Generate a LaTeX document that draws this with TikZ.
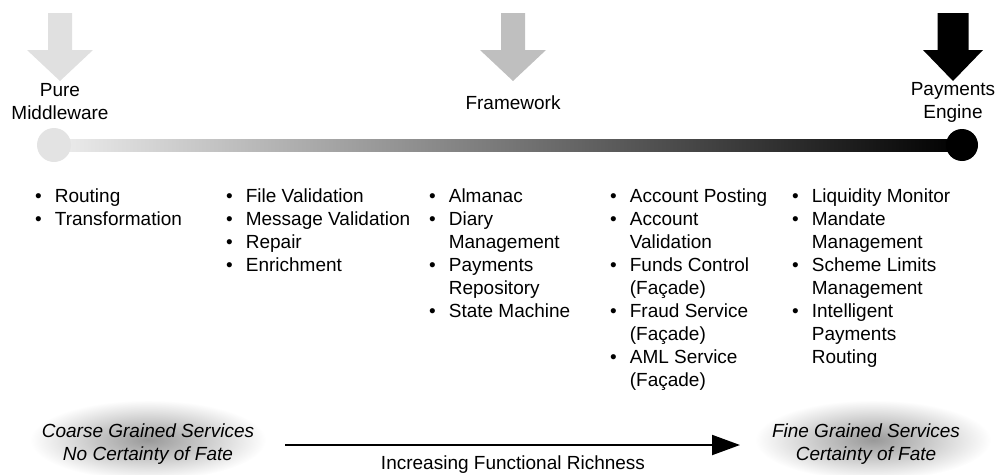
\documentclass[tikz,border=0pt]{standalone}
\usepackage{fontspec}
\setmainfont{Liberation Sans}
\usetikzlibrary{positioning, arrows.meta}

\begin{document}
\begin{tikzpicture}[x=1pt, y=-1pt, >=Stealth,
    every node/.style={font=\fontsize{19}{23}\selectfont, inner sep=0pt},
    stage/.style={align=center},
    svccol/.style={anchor=north west, align=left},
    fate/.style={align=center, font=\fontsize{19}{23}\selectfont\itshape},
    richarrow/.style={-{Triangle[length=28pt, width=20pt]}, line width=2pt}]
    \useasboundingbox (0,0) rectangle (1004,474);
    \clip (0,0) rectangle (1004,474);

    % Stage arrows
    \foreach \x/\s/\h/\c in {60/12/33/black!12, 513/12/33/black!25, 953/15.5/30/black}
      \fill[\c] (\x-\s,13) -- (\x+\s,13) -- (\x+\s,50) -- (\x+\h,50)
        -- (\x,81) -- (\x-\h,50) -- (\x-\s,50) -- cycle;

    % Stage labels
    \node[stage] (middleware) at (60,102) {Pure\\Middleware};
    \node[stage] (framework) at (513,103) {Framework};
    \node[stage] (engine) at (953,102) {Payments\\Engine};

    % Gradient bar
    \shade[left color=black!7, right color=black] (54,139) rectangle (962,151);
    \fill[black!11] (54,145) circle (17);
    \fill[black] (962,145) circle (16);

    % Services
    \node[svccol] (routing) at (35,186) {\begin{tabular}{@{}l@{\hspace{13pt}}l@{}}
      \textbullet & Routing\\
      \textbullet & Transformation
    \end{tabular}};
    \node[svccol] (validation) at (226,186) {\begin{tabular}{@{}l@{\hspace{13pt}}l@{}}
      \textbullet & File Validation\\
      \textbullet & Message Validation\\
      \textbullet & Repair\\
      \textbullet & Enrichment
    \end{tabular}};
    \node[svccol] (almanac) at (429,186) {\begin{tabular}{@{}l@{\hspace{13pt}}l@{}}
      \textbullet & Almanac\\
      \textbullet & Diary\\
                  & Management\\
      \textbullet & Payments\\
                  & Repository\\
      \textbullet & State Machine
    \end{tabular}};
    \node[svccol] (posting) at (610,186) {\begin{tabular}{@{}l@{\hspace{13pt}}l@{}}
      \textbullet & Account Posting\\
      \textbullet & Account\\
                  & Validation\\
      \textbullet & Funds Control\\
                  & (Façade)\\
      \textbullet & Fraud Service\\
                  & (Façade)\\
      \textbullet & AML Service\\
                  & (Façade)
    \end{tabular}};
    \node[svccol] (liquidity) at (792,186) {\begin{tabular}{@{}l@{\hspace{13pt}}l@{}}
      \textbullet & Liquidity Monitor\\
      \textbullet & Mandate\\
                  & Management\\
      \textbullet & Scheme Limits\\
                  & Management\\
      \textbullet & Intelligent\\
                  & Payments\\
                  & Routing
    \end{tabular}};

    % Grained services
    \shade[inner color=black!40, outer color=white] (148,440) ellipse (118 and 40);
    \shade[inner color=black!40, outer color=white] (873,440) ellipse (118 and 40);
    \node[fate] (coarse) at (148,444) {Coarse Grained Services\\No Certainty of Fate};
    \node[fate] (fine) at (866,444) {Fine Grained Services\\Certainty of Fate};

    % Richness arrow
    \coordinate (richL) at (285,445);
    \coordinate (richR) at (740,445);
    \draw[richarrow] (richL) -- (richR);
    \node (richness) at (513,465) {Increasing Functional Richness};
\end{tikzpicture}
\end{document}
